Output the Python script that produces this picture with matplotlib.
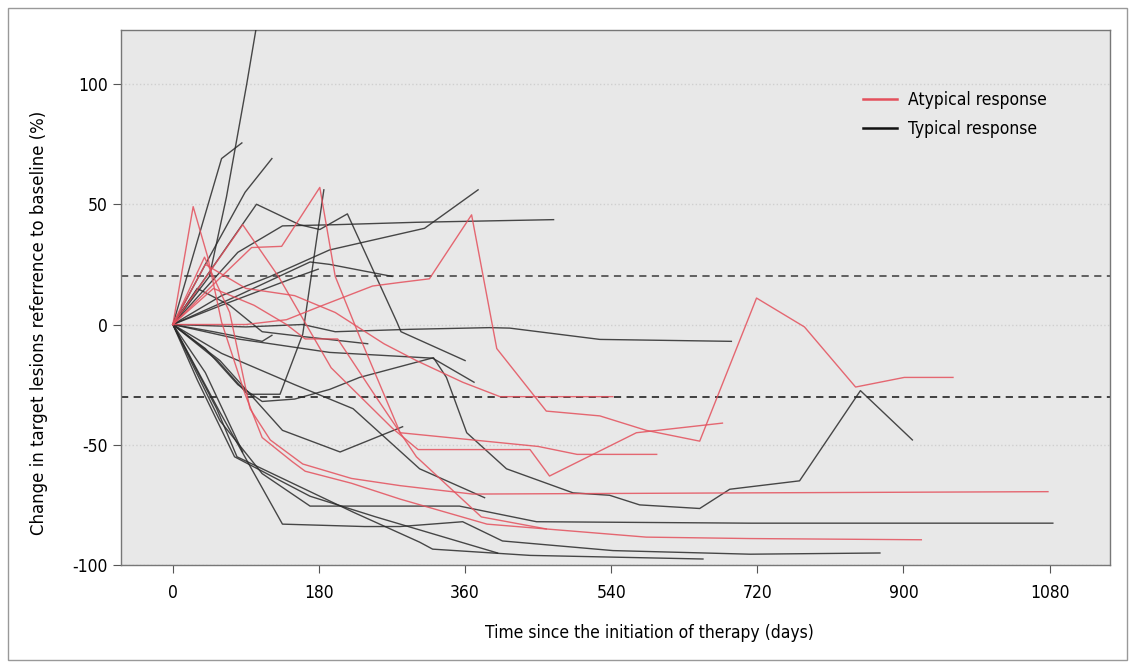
import matplotlib.pyplot as plt
from matplotlib.patches import Rectangle

# Spider plot: change in target lesions vs time (days)

# Atypical response (red) - (day, % change) per patient
atyp_days = [
    [0, 25, 43, 60, 89, 110, 147, 163, 220, 280, 387, 583, 711, 922],
    [0, 39, 70, 95, 120, 160, 220, 280, 369, 711, 1078],
    [0, 86, 130, 195, 270, 302, 440, 464, 571, 677],
    [0, 60, 97, 134, 181, 200, 230, 280, 450, 498, 596],
    [0, 90, 140, 181, 246, 280, 316, 368, 399, 460, 526, 583, 649, 719, 778, 841, 901, 961],
    [0, 40, 90, 150, 200, 260, 300, 357, 403, 542],
    [0, 50, 100, 140, 163, 203, 250, 300, 380, 460],
]
atyp_vals = [
    [0, 49, 28, 1, -29, -47, -57, -61, -66, -72.6, -83, -88.4, -89, -89.5],
    [0, 28, 5, -35, -48, -58, -64, -67, -70.5, -70, -69.5],
    [0, 41.5, 20, -18, -43, -52, -52, -63, -45, -41],
    [0, 20, 32, 32.5, 57, 20, -5, -45, -50.7, -54, -54],
    [0, 0, 2, 7.5, 16, 17.5, 19, 45.6, -10, -36, -38, -44, -48.5, 11, -1, -26, -22, -22],
    [0, 25, 15, 12, 5, -8, -15, -24, -30, -30],
    [0, 15, 8, 0, -6, -6, -30, -55, -80, -85],
]

# Typical response (black)
typ_days = [
    [0, 45, 66, 91, 106],
    [0, 60, 85],
    [0, 40, 89, 122],
    [0, 55, 92, 132, 160, 186],
    [0, 60, 120, 193, 310, 376],
    [0, 80, 135, 200, 300, 469],
    [0, 103, 156, 181, 215, 276, 281, 360],
    [0, 80, 169, 193, 270],
    [0, 60, 146, 179],
    [0, 90, 160, 200, 292, 390, 415, 526, 688],
    [0, 80, 193, 320, 371],
    [0, 40, 80, 110, 150, 193, 230, 321, 337, 362, 411, 493, 538, 575, 649, 686, 772, 847, 911],
    [0, 50, 110, 122],
    [0, 40, 86],
    [0, 58, 135, 206, 283],
    [0, 58, 135, 236, 280, 357, 406, 542, 711, 871],
    [0, 54, 79, 222, 304, 320, 440, 653],
    [0, 58, 110, 169, 353, 448, 711, 1084],
    [0, 60, 150, 222, 304, 384],
    [0, 30, 70, 110, 160, 240],
    [0, 30, 76, 169, 250, 330, 400],
]
typ_vals = [
    [0, 20, 53, 100, 130],
    [0, 69, 75.5],
    [0, 25, 55, 69],
    [0, -15, -29, -29, -4, 56],
    [0, 12, 20, 31, 40, 56],
    [0, 30, 41, 41.5, 42.5, 43.6],
    [0, 50, 41.5, 39.5, 46, 1, -3, -15],
    [0, 12, 26, 25, 20],
    [0, 8, 19, 23],
    [0, -1, 0, -3, -2, -1.3, -1.5, -6.2, -7],
    [0, -6, -11.6, -14, -24],
    [0, -10, -25, -32, -31, -27, -22, -13.8, -22, -45, -60, -70, -71, -75, -76.5, -68.5, -65, -27.5, -48],
    [0, -3, -7, -4.5],
    [0, -20, -53],
    [0, -15, -44, -53, -42.5],
    [0, -36.5, -83, -84, -84, -82, -90, -94, -95.5, -95],
    [0, -35, -55, -78, -90.5, -93.4, -96, -97.5],
    [0, -40, -62, -75.5, -75.5, -82, -82.6, -82.6],
    [0, -12, -25, -35, -60, -72],
    [0, 15, 8, -3, -5, -8],
    [0, -23, -55, -71.4, -80, -88, -95],
]

xticks = [0, 180, 360, 540, 720, 900, 1080]
yticks = [-100, -50, 0, 50, 100]

plt.rcParams['font.family'] = ['DejaVu Sans']
plt.rcParams['axes.unicode_minus'] = False

fig = plt.figure(figsize=(11.3, 6.62), dpi=100)
fig.patches.append(Rectangle((0.007, 0.003), 0.99, 0.985, transform=fig.transFigure,
                             fill=False, edgecolor='#999999', linewidth=1))
ax = fig.add_axes([0.107, 0.1465, 0.875, 0.808])
ax.set_facecolor('#e8e8e8')

for y in yticks:
    ax.axhline(y, color='#cfcfcf', linestyle=':', linewidth=1, zorder=1)
ax.axhline(20, color='#555555', linestyle=(0, (4, 3)), linewidth=1.3, zorder=2)
ax.axhline(-30, color='#333333', linestyle=(0, (4, 3)), linewidth=1.3, zorder=2)

for d, v in zip(typ_days, typ_vals):
    ax.plot(d, v, color='#2a2a2a', linewidth=1.0, alpha=0.85, zorder=3)
for d, v in zip(atyp_days, atyp_vals):
    ax.plot(d, v, color='#e4505c', linewidth=1.0, alpha=0.85, zorder=4)

ax.plot([], [], color='#e4505c', linewidth=1.8, label='Atypical response')
ax.plot([], [], color='#111111', linewidth=1.8, label='Typical response')
leg = ax.legend(loc='upper right', bbox_to_anchor=(0.952, 0.915), frameon=False,
                handlelength=2.0, labelspacing=0.65, handletextpad=0.6,
                prop={'family': 'DejaVu Sans', 'stretch': 'condensed', 'size': 12.5})

ax.set_xlim(-64, 1154)
ax.set_ylim(-100, 122.4)
ax.set_xticks(xticks)
ax.set_yticks(yticks)
ax.tick_params(axis='both', direction='out', length=6, color='#555555')
ax.tick_params(axis='x', pad=8)
for lab in ax.get_xticklabels() + ax.get_yticklabels():
    lab.set_fontstretch('condensed')
    lab.set_fontsize(12.5)
for s in ax.spines.values():
    s.set_color('#777777')
    s.set_linewidth(1)

ax.set_xlabel('Time since the initiation of therapy (days)', fontsize=12.5,
              fontstretch='condensed')
ax.set_ylabel('Change in target lesions referrence to baseline (%)', fontsize=12)
ax.xaxis.set_label_coords(0.535, -0.110)
ax.yaxis.set_label_coords(-0.074, 0.452)

plt.savefig('out.png', dpi=100)
